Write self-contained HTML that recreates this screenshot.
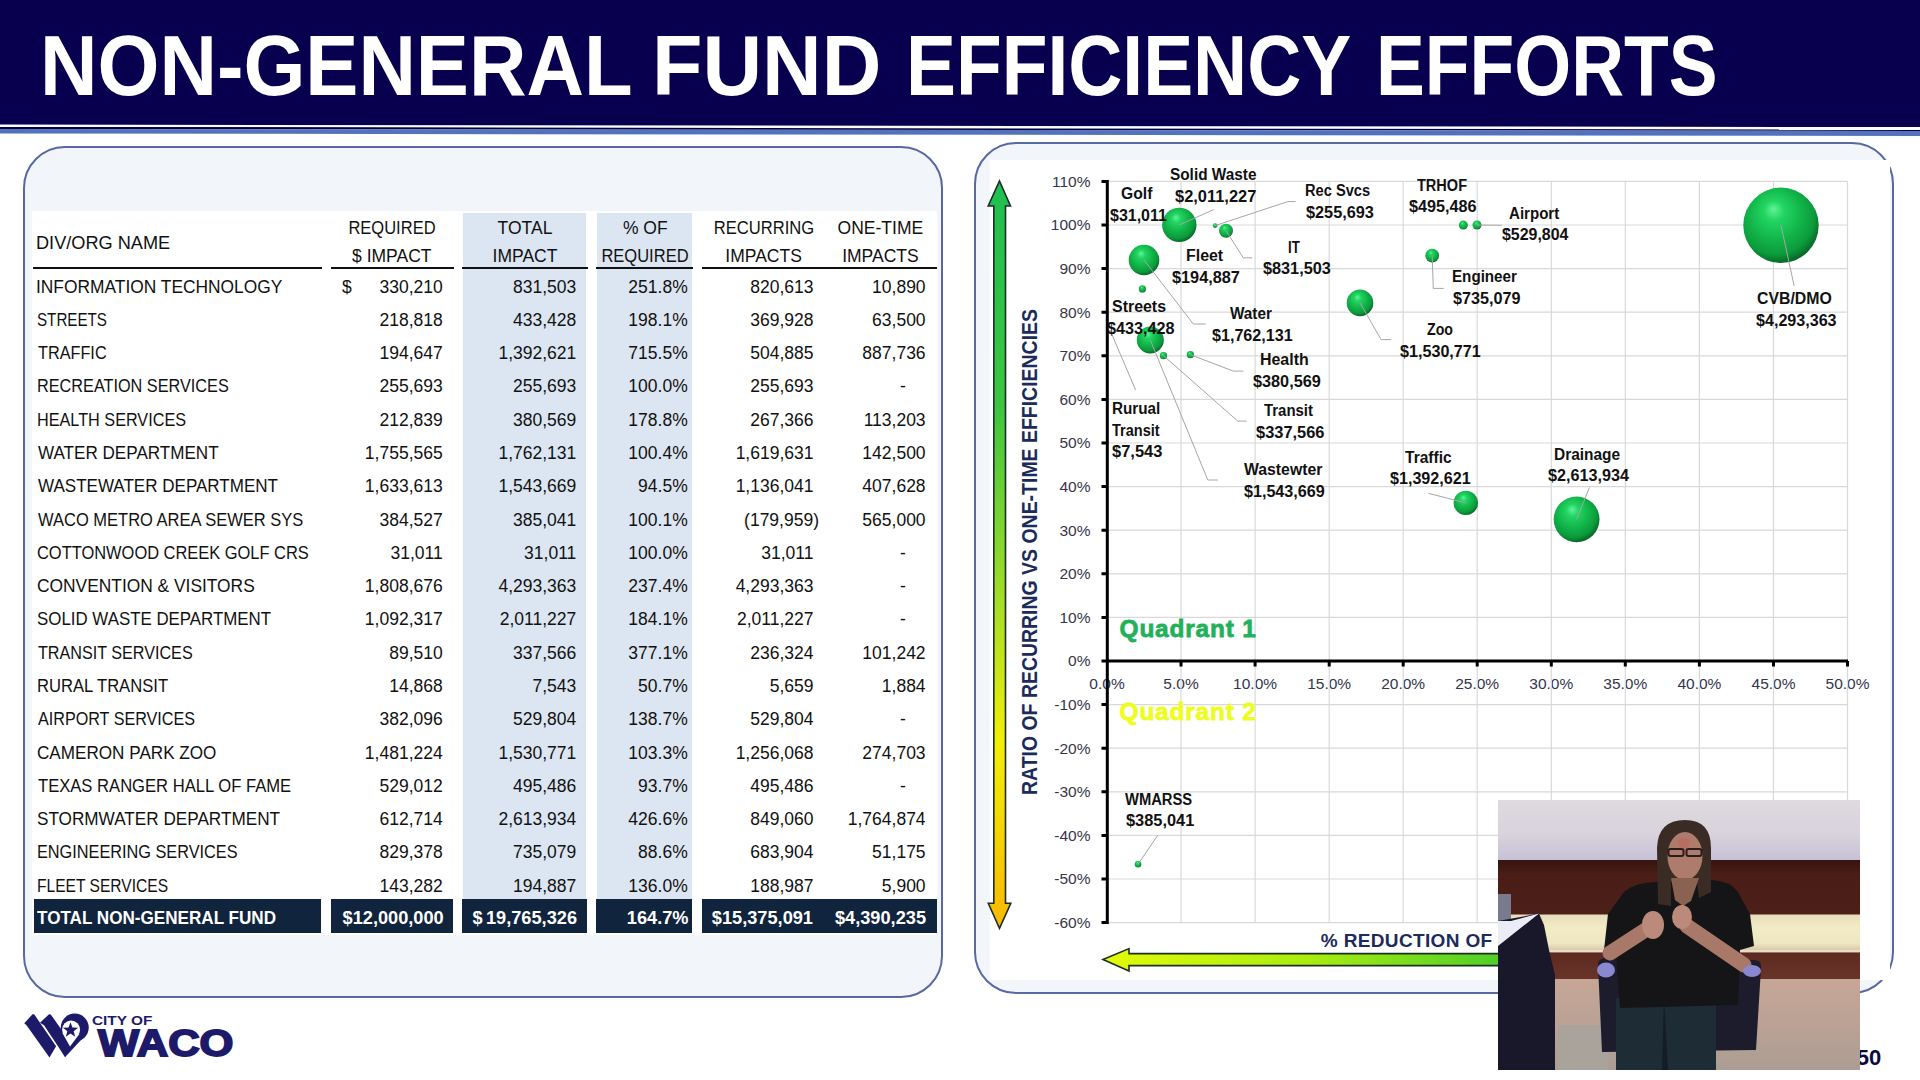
<!DOCTYPE html>
<html><head><meta charset="utf-8"><style>
*{margin:0;padding:0;box-sizing:border-box}
html,body{width:1920px;height:1080px;overflow:hidden;background:#fff;font-family:"Liberation Sans",sans-serif}
.t{position:absolute;white-space:nowrap}
.a{position:absolute}
</style></head><body>
<svg class="a" style="left:0;top:0" width="1920" height="140" viewBox="0 0 1920 140"><path d="M0 0H1920V128H0Z" fill="#08004f"/><path d="M0 124.6L1920 127.1V129.6L0 127Z" fill="#fbfbff"/><path d="M0 127L1920 129.6V131L0 129.1Z" fill="#03003f"/><path d="M0 129.1L1920 131V136L0 133.5Z" fill="#5372bd"/></svg>
<div class="t" style="left:39.87px;top:23.8px;font-size:84.4px;line-height:84.4px;font-weight:700;color:#fff;transform-origin:0 0;transform:scaleX(0.9432)">NON-GENERAL</div>
<div class="t" style="left:652.48px;top:23.8px;font-size:84.4px;line-height:84.4px;font-weight:700;color:#fff;transform-origin:0 0;transform:scaleX(0.9784)">FUND</div>
<div class="t" style="left:906.07px;top:23.8px;font-size:84.4px;line-height:84.4px;font-weight:700;color:#fff;transform-origin:0 0;transform:scaleX(0.8874)">EFFICIENCY</div>
<div class="t" style="left:1375.88px;top:23.8px;font-size:84.4px;line-height:84.4px;font-weight:700;color:#fff;transform-origin:0 0;transform:scaleX(0.8674)">EFFORTS</div>
<div class="a" style="left:23px;top:146px;width:920px;height:852px;border:2px solid #5868a0;border-radius:42px;background:#f2f6fb"></div>
<div class="a" style="left:31.8px;top:210.8px;width:905.2px;height:724.2px;background:#fff"></div>
<div class="a" style="left:462.5px;top:213px;width:123.5px;height:686px;background:#dce6f2"></div>
<div class="a" style="left:597px;top:213px;width:94.5px;height:686px;background:#dce6f2"></div>
<div class="a" style="left:33px;top:266.5px;width:289px;height:2.2px;background:#111"></div>
<div class="a" style="left:331px;top:266.5px;width:122.5px;height:2.2px;background:#111"></div>
<div class="a" style="left:462px;top:266.5px;width:126px;height:2.2px;background:#111"></div>
<div class="a" style="left:596px;top:266.5px;width:97px;height:2.2px;background:#111"></div>
<div class="a" style="left:702px;top:266.5px;width:235px;height:2.2px;background:#111"></div>
<div class="t" style="left:36.3px;top:234.7px;font-size:17.5px;line-height:17.5px;color:#111;transform-origin:0 0;transform:scaleX(1.037)">DIV/ORG NAME</div>
<div class="t" style="left:91.8px;width:600px;text-align:center;top:220.4px;font-size:17.5px;line-height:17.5px;color:#111;transform-origin:50% 0;transform:scaleX(0.943)">REQUIRED</div>
<div class="t" style="left:91.8px;width:600px;text-align:center;top:248.2px;font-size:17.5px;line-height:17.5px;color:#111;">$ IMPACT</div>
<div class="t" style="left:225.0px;width:600px;text-align:center;top:220.4px;font-size:17.5px;line-height:17.5px;color:#111;">TOTAL</div>
<div class="t" style="left:225.0px;width:600px;text-align:center;top:248.2px;font-size:17.5px;line-height:17.5px;color:#111;">IMPACT</div>
<div class="t" style="left:345.3px;width:600px;text-align:center;top:220.4px;font-size:17.5px;line-height:17.5px;color:#111;">% OF</div>
<div class="t" style="left:345.3px;width:600px;text-align:center;top:248.2px;font-size:17.5px;line-height:17.5px;color:#111;transform-origin:50% 0;transform:scaleX(0.943)">REQUIRED</div>
<div class="t" style="left:463.6px;width:600px;text-align:center;top:220.4px;font-size:17.5px;line-height:17.5px;color:#111;transform-origin:50% 0;transform:scaleX(0.947)">RECURRING</div>
<div class="t" style="left:463.6px;width:600px;text-align:center;top:248.2px;font-size:17.5px;line-height:17.5px;color:#111;">IMPACTS</div>
<div class="t" style="left:580.4px;width:600px;text-align:center;top:220.4px;font-size:17.5px;line-height:17.5px;color:#111;">ONE-TIME</div>
<div class="t" style="left:580.4px;width:600px;text-align:center;top:248.2px;font-size:17.5px;line-height:17.5px;color:#111;">IMPACTS</div>
<div class="t" style="left:35.8px;top:278.6px;font-size:17.5px;line-height:17.5px;color:#111;transform-origin:0 0;transform:scaleX(0.9923)">INFORMATION TECHNOLOGY</div>
<div class="t" style="left:342.0px;top:278.6px;font-size:17.5px;line-height:17.5px;color:#111;">$</div>
<div class="t" style="right:1477.3px;text-align:right;top:278.6px;font-size:17.5px;line-height:17.5px;color:#111;">330,210</div>
<div class="t" style="right:1343.7px;text-align:right;top:278.6px;font-size:17.5px;line-height:17.5px;color:#111;">831,503</div>
<div class="t" style="right:1232.3px;text-align:right;top:278.6px;font-size:17.5px;line-height:17.5px;color:#111;">251.8%</div>
<div class="t" style="right:1106.5px;text-align:right;top:278.6px;font-size:17.5px;line-height:17.5px;color:#111;">820,613</div>
<div class="t" style="right:994.4px;text-align:right;top:278.6px;font-size:17.5px;line-height:17.5px;color:#111;">10,890</div>
<div class="t" style="left:37.0px;top:311.9px;font-size:17.5px;line-height:17.5px;color:#111;transform-origin:0 0;transform:scaleX(0.8671)">STREETS</div>
<div class="t" style="right:1477.3px;text-align:right;top:311.9px;font-size:17.5px;line-height:17.5px;color:#111;">218,818</div>
<div class="t" style="right:1343.7px;text-align:right;top:311.9px;font-size:17.5px;line-height:17.5px;color:#111;">433,428</div>
<div class="t" style="right:1232.3px;text-align:right;top:311.9px;font-size:17.5px;line-height:17.5px;color:#111;">198.1%</div>
<div class="t" style="right:1106.5px;text-align:right;top:311.9px;font-size:17.5px;line-height:17.5px;color:#111;">369,928</div>
<div class="t" style="right:994.4px;text-align:right;top:311.9px;font-size:17.5px;line-height:17.5px;color:#111;">63,500</div>
<div class="t" style="left:37.8px;top:345.1px;font-size:17.5px;line-height:17.5px;color:#111;transform-origin:0 0;transform:scaleX(0.9288)">TRAFFIC</div>
<div class="t" style="right:1477.3px;text-align:right;top:345.1px;font-size:17.5px;line-height:17.5px;color:#111;">194,647</div>
<div class="t" style="right:1343.7px;text-align:right;top:345.1px;font-size:17.5px;line-height:17.5px;color:#111;">1,392,621</div>
<div class="t" style="right:1232.3px;text-align:right;top:345.1px;font-size:17.5px;line-height:17.5px;color:#111;">715.5%</div>
<div class="t" style="right:1106.5px;text-align:right;top:345.1px;font-size:17.5px;line-height:17.5px;color:#111;">504,885</div>
<div class="t" style="right:994.4px;text-align:right;top:345.1px;font-size:17.5px;line-height:17.5px;color:#111;">887,736</div>
<div class="t" style="left:36.9px;top:378.4px;font-size:17.5px;line-height:17.5px;color:#111;transform-origin:0 0;transform:scaleX(0.9288)">RECREATION SERVICES</div>
<div class="t" style="right:1477.3px;text-align:right;top:378.4px;font-size:17.5px;line-height:17.5px;color:#111;">255,693</div>
<div class="t" style="right:1343.7px;text-align:right;top:378.4px;font-size:17.5px;line-height:17.5px;color:#111;">255,693</div>
<div class="t" style="right:1232.3px;text-align:right;top:378.4px;font-size:17.5px;line-height:17.5px;color:#111;">100.0%</div>
<div class="t" style="right:1106.5px;text-align:right;top:378.4px;font-size:17.5px;line-height:17.5px;color:#111;">255,693</div>
<div class="t" style="left:603.0px;width:600px;text-align:center;top:378.4px;font-size:17.5px;line-height:17.5px;color:#111;">-</div>
<div class="t" style="left:36.9px;top:411.7px;font-size:17.5px;line-height:17.5px;color:#111;transform-origin:0 0;transform:scaleX(0.9270)">HEALTH SERVICES</div>
<div class="t" style="right:1477.3px;text-align:right;top:411.7px;font-size:17.5px;line-height:17.5px;color:#111;">212,839</div>
<div class="t" style="right:1343.7px;text-align:right;top:411.7px;font-size:17.5px;line-height:17.5px;color:#111;">380,569</div>
<div class="t" style="right:1232.3px;text-align:right;top:411.7px;font-size:17.5px;line-height:17.5px;color:#111;">178.8%</div>
<div class="t" style="right:1106.5px;text-align:right;top:411.7px;font-size:17.5px;line-height:17.5px;color:#111;">267,366</div>
<div class="t" style="right:994.4px;text-align:right;top:411.7px;font-size:17.5px;line-height:17.5px;color:#111;">113,203</div>
<div class="t" style="left:37.8px;top:445.0px;font-size:17.5px;line-height:17.5px;color:#111;transform-origin:0 0;transform:scaleX(0.9762)">WATER DEPARTMENT</div>
<div class="t" style="right:1477.3px;text-align:right;top:445.0px;font-size:17.5px;line-height:17.5px;color:#111;">1,755,565</div>
<div class="t" style="right:1343.7px;text-align:right;top:445.0px;font-size:17.5px;line-height:17.5px;color:#111;">1,762,131</div>
<div class="t" style="right:1232.3px;text-align:right;top:445.0px;font-size:17.5px;line-height:17.5px;color:#111;">100.4%</div>
<div class="t" style="right:1106.5px;text-align:right;top:445.0px;font-size:17.5px;line-height:17.5px;color:#111;">1,619,631</div>
<div class="t" style="right:994.4px;text-align:right;top:445.0px;font-size:17.5px;line-height:17.5px;color:#111;">142,500</div>
<div class="t" style="left:37.8px;top:478.3px;font-size:17.5px;line-height:17.5px;color:#111;transform-origin:0 0;transform:scaleX(0.9732)">WASTEWATER DEPARTMENT</div>
<div class="t" style="right:1477.3px;text-align:right;top:478.3px;font-size:17.5px;line-height:17.5px;color:#111;">1,633,613</div>
<div class="t" style="right:1343.7px;text-align:right;top:478.3px;font-size:17.5px;line-height:17.5px;color:#111;">1,543,669</div>
<div class="t" style="right:1232.3px;text-align:right;top:478.3px;font-size:17.5px;line-height:17.5px;color:#111;">94.5%</div>
<div class="t" style="right:1106.5px;text-align:right;top:478.3px;font-size:17.5px;line-height:17.5px;color:#111;">1,136,041</div>
<div class="t" style="right:994.4px;text-align:right;top:478.3px;font-size:17.5px;line-height:17.5px;color:#111;">407,628</div>
<div class="t" style="left:37.8px;top:511.5px;font-size:17.5px;line-height:17.5px;color:#111;transform-origin:0 0;transform:scaleX(0.9429)">WACO METRO AREA SEWER SYS</div>
<div class="t" style="right:1477.3px;text-align:right;top:511.5px;font-size:17.5px;line-height:17.5px;color:#111;">384,527</div>
<div class="t" style="right:1343.7px;text-align:right;top:511.5px;font-size:17.5px;line-height:17.5px;color:#111;">385,041</div>
<div class="t" style="right:1232.3px;text-align:right;top:511.5px;font-size:17.5px;line-height:17.5px;color:#111;">100.1%</div>
<div class="t" style="right:1101.0px;text-align:right;top:511.5px;font-size:17.5px;line-height:17.5px;color:#111;">(179,959)</div>
<div class="t" style="right:994.4px;text-align:right;top:511.5px;font-size:17.5px;line-height:17.5px;color:#111;">565,000</div>
<div class="t" style="left:36.9px;top:544.8px;font-size:17.5px;line-height:17.5px;color:#111;transform-origin:0 0;transform:scaleX(0.9392)">COTTONWOOD CREEK GOLF CRS</div>
<div class="t" style="right:1477.3px;text-align:right;top:544.8px;font-size:17.5px;line-height:17.5px;color:#111;">31,011</div>
<div class="t" style="right:1343.7px;text-align:right;top:544.8px;font-size:17.5px;line-height:17.5px;color:#111;">31,011</div>
<div class="t" style="right:1232.3px;text-align:right;top:544.8px;font-size:17.5px;line-height:17.5px;color:#111;">100.0%</div>
<div class="t" style="right:1106.5px;text-align:right;top:544.8px;font-size:17.5px;line-height:17.5px;color:#111;">31,011</div>
<div class="t" style="left:603.0px;width:600px;text-align:center;top:544.8px;font-size:17.5px;line-height:17.5px;color:#111;">-</div>
<div class="t" style="left:36.8px;top:578.1px;font-size:17.5px;line-height:17.5px;color:#111;transform-origin:0 0;transform:scaleX(0.9922)">CONVENTION &amp; VISITORS</div>
<div class="t" style="right:1477.3px;text-align:right;top:578.1px;font-size:17.5px;line-height:17.5px;color:#111;">1,808,676</div>
<div class="t" style="right:1343.7px;text-align:right;top:578.1px;font-size:17.5px;line-height:17.5px;color:#111;">4,293,363</div>
<div class="t" style="right:1232.3px;text-align:right;top:578.1px;font-size:17.5px;line-height:17.5px;color:#111;">237.4%</div>
<div class="t" style="right:1106.5px;text-align:right;top:578.1px;font-size:17.5px;line-height:17.5px;color:#111;">4,293,363</div>
<div class="t" style="left:603.0px;width:600px;text-align:center;top:578.1px;font-size:17.5px;line-height:17.5px;color:#111;">-</div>
<div class="t" style="left:36.8px;top:611.4px;font-size:17.5px;line-height:17.5px;color:#111;transform-origin:0 0;transform:scaleX(0.9643)">SOLID WASTE DEPARTMENT</div>
<div class="t" style="right:1477.3px;text-align:right;top:611.4px;font-size:17.5px;line-height:17.5px;color:#111;">1,092,317</div>
<div class="t" style="right:1343.7px;text-align:right;top:611.4px;font-size:17.5px;line-height:17.5px;color:#111;">2,011,227</div>
<div class="t" style="right:1232.3px;text-align:right;top:611.4px;font-size:17.5px;line-height:17.5px;color:#111;">184.1%</div>
<div class="t" style="right:1106.5px;text-align:right;top:611.4px;font-size:17.5px;line-height:17.5px;color:#111;">2,011,227</div>
<div class="t" style="left:603.0px;width:600px;text-align:center;top:611.4px;font-size:17.5px;line-height:17.5px;color:#111;">-</div>
<div class="t" style="left:37.8px;top:644.7px;font-size:17.5px;line-height:17.5px;color:#111;transform-origin:0 0;transform:scaleX(0.9228)">TRANSIT SERVICES</div>
<div class="t" style="right:1477.3px;text-align:right;top:644.7px;font-size:17.5px;line-height:17.5px;color:#111;">89,510</div>
<div class="t" style="right:1343.7px;text-align:right;top:644.7px;font-size:17.5px;line-height:17.5px;color:#111;">337,566</div>
<div class="t" style="right:1232.3px;text-align:right;top:644.7px;font-size:17.5px;line-height:17.5px;color:#111;">377.1%</div>
<div class="t" style="right:1106.5px;text-align:right;top:644.7px;font-size:17.5px;line-height:17.5px;color:#111;">236,324</div>
<div class="t" style="right:994.4px;text-align:right;top:644.7px;font-size:17.5px;line-height:17.5px;color:#111;">101,242</div>
<div class="t" style="left:36.9px;top:677.9px;font-size:17.5px;line-height:17.5px;color:#111;transform-origin:0 0;transform:scaleX(0.9489)">RURAL TRANSIT</div>
<div class="t" style="right:1477.3px;text-align:right;top:677.9px;font-size:17.5px;line-height:17.5px;color:#111;">14,868</div>
<div class="t" style="right:1343.7px;text-align:right;top:677.9px;font-size:17.5px;line-height:17.5px;color:#111;">7,543</div>
<div class="t" style="right:1232.3px;text-align:right;top:677.9px;font-size:17.5px;line-height:17.5px;color:#111;">50.7%</div>
<div class="t" style="right:1106.5px;text-align:right;top:677.9px;font-size:17.5px;line-height:17.5px;color:#111;">5,659</div>
<div class="t" style="right:994.4px;text-align:right;top:677.9px;font-size:17.5px;line-height:17.5px;color:#111;">1,884</div>
<div class="t" style="left:37.8px;top:711.2px;font-size:17.5px;line-height:17.5px;color:#111;transform-origin:0 0;transform:scaleX(0.9225)">AIRPORT SERVICES</div>
<div class="t" style="right:1477.3px;text-align:right;top:711.2px;font-size:17.5px;line-height:17.5px;color:#111;">382,096</div>
<div class="t" style="right:1343.7px;text-align:right;top:711.2px;font-size:17.5px;line-height:17.5px;color:#111;">529,804</div>
<div class="t" style="right:1232.3px;text-align:right;top:711.2px;font-size:17.5px;line-height:17.5px;color:#111;">138.7%</div>
<div class="t" style="right:1106.5px;text-align:right;top:711.2px;font-size:17.5px;line-height:17.5px;color:#111;">529,804</div>
<div class="t" style="left:603.0px;width:600px;text-align:center;top:711.2px;font-size:17.5px;line-height:17.5px;color:#111;">-</div>
<div class="t" style="left:36.8px;top:744.5px;font-size:17.5px;line-height:17.5px;color:#111;transform-origin:0 0;transform:scaleX(0.9780)">CAMERON PARK ZOO</div>
<div class="t" style="right:1477.3px;text-align:right;top:744.5px;font-size:17.5px;line-height:17.5px;color:#111;">1,481,224</div>
<div class="t" style="right:1343.7px;text-align:right;top:744.5px;font-size:17.5px;line-height:17.5px;color:#111;">1,530,771</div>
<div class="t" style="right:1232.3px;text-align:right;top:744.5px;font-size:17.5px;line-height:17.5px;color:#111;">103.3%</div>
<div class="t" style="right:1106.5px;text-align:right;top:744.5px;font-size:17.5px;line-height:17.5px;color:#111;">1,256,068</div>
<div class="t" style="right:994.4px;text-align:right;top:744.5px;font-size:17.5px;line-height:17.5px;color:#111;">274,703</div>
<div class="t" style="left:37.8px;top:777.8px;font-size:17.5px;line-height:17.5px;color:#111;transform-origin:0 0;transform:scaleX(0.9489)">TEXAS RANGER HALL OF FAME</div>
<div class="t" style="right:1477.3px;text-align:right;top:777.8px;font-size:17.5px;line-height:17.5px;color:#111;">529,012</div>
<div class="t" style="right:1343.7px;text-align:right;top:777.8px;font-size:17.5px;line-height:17.5px;color:#111;">495,486</div>
<div class="t" style="right:1232.3px;text-align:right;top:777.8px;font-size:17.5px;line-height:17.5px;color:#111;">93.7%</div>
<div class="t" style="right:1106.5px;text-align:right;top:777.8px;font-size:17.5px;line-height:17.5px;color:#111;">495,486</div>
<div class="t" style="left:603.0px;width:600px;text-align:center;top:777.8px;font-size:17.5px;line-height:17.5px;color:#111;">-</div>
<div class="t" style="left:36.8px;top:811.1px;font-size:17.5px;line-height:17.5px;color:#111;transform-origin:0 0;transform:scaleX(0.9801)">STORMWATER DEPARTMENT</div>
<div class="t" style="right:1477.3px;text-align:right;top:811.1px;font-size:17.5px;line-height:17.5px;color:#111;">612,714</div>
<div class="t" style="right:1343.7px;text-align:right;top:811.1px;font-size:17.5px;line-height:17.5px;color:#111;">2,613,934</div>
<div class="t" style="right:1232.3px;text-align:right;top:811.1px;font-size:17.5px;line-height:17.5px;color:#111;">426.6%</div>
<div class="t" style="right:1106.5px;text-align:right;top:811.1px;font-size:17.5px;line-height:17.5px;color:#111;">849,060</div>
<div class="t" style="right:994.4px;text-align:right;top:811.1px;font-size:17.5px;line-height:17.5px;color:#111;">1,764,874</div>
<div class="t" style="left:36.9px;top:844.3px;font-size:17.5px;line-height:17.5px;color:#111;transform-origin:0 0;transform:scaleX(0.9304)">ENGINEERING SERVICES</div>
<div class="t" style="right:1477.3px;text-align:right;top:844.3px;font-size:17.5px;line-height:17.5px;color:#111;">829,378</div>
<div class="t" style="right:1343.7px;text-align:right;top:844.3px;font-size:17.5px;line-height:17.5px;color:#111;">735,079</div>
<div class="t" style="right:1232.3px;text-align:right;top:844.3px;font-size:17.5px;line-height:17.5px;color:#111;">88.6%</div>
<div class="t" style="right:1106.5px;text-align:right;top:844.3px;font-size:17.5px;line-height:17.5px;color:#111;">683,904</div>
<div class="t" style="right:994.4px;text-align:right;top:844.3px;font-size:17.5px;line-height:17.5px;color:#111;">51,175</div>
<div class="t" style="left:36.9px;top:877.6px;font-size:17.5px;line-height:17.5px;color:#111;transform-origin:0 0;transform:scaleX(0.8903)">FLEET SERVICES</div>
<div class="t" style="right:1477.3px;text-align:right;top:877.6px;font-size:17.5px;line-height:17.5px;color:#111;">143,282</div>
<div class="t" style="right:1343.7px;text-align:right;top:877.6px;font-size:17.5px;line-height:17.5px;color:#111;">194,887</div>
<div class="t" style="right:1232.3px;text-align:right;top:877.6px;font-size:17.5px;line-height:17.5px;color:#111;">136.0%</div>
<div class="t" style="right:1106.5px;text-align:right;top:877.6px;font-size:17.5px;line-height:17.5px;color:#111;">188,987</div>
<div class="t" style="right:994.4px;text-align:right;top:877.6px;font-size:17.5px;line-height:17.5px;color:#111;">5,900</div>
<div class="a" style="left:34px;top:899px;width:287px;height:33.6px;background:#10243e"></div>
<div class="a" style="left:331.4px;top:899px;width:121.40000000000003px;height:33.6px;background:#10243e"></div>
<div class="a" style="left:462.3px;top:899px;width:124.69999999999999px;height:33.6px;background:#10243e"></div>
<div class="a" style="left:596px;top:899px;width:95.70000000000005px;height:33.6px;background:#10243e"></div>
<div class="a" style="left:701.8px;top:899px;width:235.10000000000002px;height:33.6px;background:#10243e"></div>
<div class="t" style="left:37.0px;top:909.1px;font-size:18.2px;line-height:18.2px;font-weight:700;color:#fff;transform-origin:0 0;transform:scaleX(0.94)">TOTAL NON-GENERAL FUND</div>
<div class="t" style="right:1476.3px;text-align:right;top:909.1px;font-size:18.2px;line-height:18.2px;font-weight:700;color:#fff;">$12,000,000</div>
<div class="t" style="left:472.5px;top:909.1px;font-size:18.2px;line-height:18.2px;font-weight:700;color:#fff;">$</div>
<div class="t" style="right:1343.0px;text-align:right;top:909.1px;font-size:18.2px;line-height:18.2px;font-weight:700;color:#fff;">19,765,326</div>
<div class="t" style="right:1231.5px;text-align:right;top:909.1px;font-size:18.2px;line-height:18.2px;font-weight:700;color:#fff;">164.7%</div>
<div class="t" style="right:1107.0px;text-align:right;top:909.1px;font-size:18.2px;line-height:18.2px;font-weight:700;color:#fff;">$15,375,091</div>
<div class="t" style="right:994.0px;text-align:right;top:909.1px;font-size:18.2px;line-height:18.2px;font-weight:700;color:#fff;">$4,390,235</div>
<div class="a" style="left:974px;top:142px;width:920px;height:852px;border:2px solid #5868a0;border-radius:42px;background:#f2f6fb"></div>
<div class="a" style="left:989.5px;top:159.5px;width:900px;height:820px;background:#fff"></div>
<div class="t" style="right:829.5px;text-align:right;top:915.0px;font-size:15.5px;line-height:15.5px;color:#34364c;">-60%</div>
<div class="t" style="right:829.5px;text-align:right;top:871.4px;font-size:15.5px;line-height:15.5px;color:#34364c;">-50%</div>
<div class="t" style="right:829.5px;text-align:right;top:827.8px;font-size:15.5px;line-height:15.5px;color:#34364c;">-40%</div>
<div class="t" style="right:829.5px;text-align:right;top:784.2px;font-size:15.5px;line-height:15.5px;color:#34364c;">-30%</div>
<div class="t" style="right:829.5px;text-align:right;top:740.6px;font-size:15.5px;line-height:15.5px;color:#34364c;">-20%</div>
<div class="t" style="right:829.5px;text-align:right;top:697.0px;font-size:15.5px;line-height:15.5px;color:#34364c;">-10%</div>
<div class="t" style="right:829.5px;text-align:right;top:653.4px;font-size:15.5px;line-height:15.5px;color:#34364c;">0%</div>
<div class="t" style="right:829.5px;text-align:right;top:609.8px;font-size:15.5px;line-height:15.5px;color:#34364c;">10%</div>
<div class="t" style="right:829.5px;text-align:right;top:566.2px;font-size:15.5px;line-height:15.5px;color:#34364c;">20%</div>
<div class="t" style="right:829.5px;text-align:right;top:522.6px;font-size:15.5px;line-height:15.5px;color:#34364c;">30%</div>
<div class="t" style="right:829.5px;text-align:right;top:479.0px;font-size:15.5px;line-height:15.5px;color:#34364c;">40%</div>
<div class="t" style="right:829.5px;text-align:right;top:435.4px;font-size:15.5px;line-height:15.5px;color:#34364c;">50%</div>
<div class="t" style="right:829.5px;text-align:right;top:391.8px;font-size:15.5px;line-height:15.5px;color:#34364c;">60%</div>
<div class="t" style="right:829.5px;text-align:right;top:348.2px;font-size:15.5px;line-height:15.5px;color:#34364c;">70%</div>
<div class="t" style="right:829.5px;text-align:right;top:304.6px;font-size:15.5px;line-height:15.5px;color:#34364c;">80%</div>
<div class="t" style="right:829.5px;text-align:right;top:261.0px;font-size:15.5px;line-height:15.5px;color:#34364c;">90%</div>
<div class="t" style="right:829.5px;text-align:right;top:217.4px;font-size:15.5px;line-height:15.5px;color:#34364c;">100%</div>
<div class="t" style="right:829.5px;text-align:right;top:173.8px;font-size:15.5px;line-height:15.5px;color:#34364c;">110%</div>
<div class="t" style="left:807.0px;width:600px;text-align:center;top:675.9px;font-size:15.5px;line-height:15.5px;color:#34364c;">0.0%</div>
<div class="t" style="left:881.0px;width:600px;text-align:center;top:675.9px;font-size:15.5px;line-height:15.5px;color:#34364c;">5.0%</div>
<div class="t" style="left:955.1px;width:600px;text-align:center;top:675.9px;font-size:15.5px;line-height:15.5px;color:#34364c;">10.0%</div>
<div class="t" style="left:1029.2px;width:600px;text-align:center;top:675.9px;font-size:15.5px;line-height:15.5px;color:#34364c;">15.0%</div>
<div class="t" style="left:1103.2px;width:600px;text-align:center;top:675.9px;font-size:15.5px;line-height:15.5px;color:#34364c;">20.0%</div>
<div class="t" style="left:1177.2px;width:600px;text-align:center;top:675.9px;font-size:15.5px;line-height:15.5px;color:#34364c;">25.0%</div>
<div class="t" style="left:1251.3px;width:600px;text-align:center;top:675.9px;font-size:15.5px;line-height:15.5px;color:#34364c;">30.0%</div>
<div class="t" style="left:1325.3px;width:600px;text-align:center;top:675.9px;font-size:15.5px;line-height:15.5px;color:#34364c;">35.0%</div>
<div class="t" style="left:1399.4px;width:600px;text-align:center;top:675.9px;font-size:15.5px;line-height:15.5px;color:#34364c;">40.0%</div>
<div class="t" style="left:1473.5px;width:600px;text-align:center;top:675.9px;font-size:15.5px;line-height:15.5px;color:#34364c;">45.0%</div>
<div class="t" style="left:1547.5px;width:600px;text-align:center;top:675.9px;font-size:15.5px;line-height:15.5px;color:#34364c;">50.0%</div>
<svg class="a" style="left:0;top:0" width="1920" height="1080" viewBox="0 0 1920 1080">
<defs>
<radialGradient id="bg" cx="0.44" cy="0.40" r="0.62" fx="0.40" fy="0.28"><stop offset="0" stop-color="#5ef597"/><stop offset="0.22" stop-color="#22d462"/><stop offset="0.55" stop-color="#12b64a"/><stop offset="0.82" stop-color="#0c9a3c"/><stop offset="1" stop-color="#066224"/></radialGradient>
<linearGradient id="vg" x1="0" y1="0" x2="0" y2="1"><stop offset="0" stop-color="#1fbf4f"/><stop offset="0.3" stop-color="#3cc640"/><stop offset="0.55" stop-color="#9fdc26"/><stop offset="0.75" stop-color="#f2ef05"/><stop offset="1" stop-color="#f9b800"/></linearGradient>
<linearGradient id="hg" x1="0" y1="0" x2="1" y2="0"><stop offset="0" stop-color="#e2fb08"/><stop offset="0.5" stop-color="#a8ec10"/><stop offset="1" stop-color="#45cc2a"/></linearGradient>
</defs>
<path d="M1107 922.6H1847.5 M1107 879.0H1847.5 M1107 835.4H1847.5 M1107 791.8H1847.5 M1107 748.2H1847.5 M1107 704.6H1847.5 M1107 661.0H1847.5 M1107 617.4H1847.5 M1107 573.8H1847.5 M1107 530.2H1847.5 M1107 486.6H1847.5 M1107 443.0H1847.5 M1107 399.4H1847.5 M1107 355.8H1847.5 M1107 312.2H1847.5 M1107 268.6H1847.5 M1107 225.0H1847.5 M1107 181.4H1847.5 M1181.0 181.4V922.6 M1255.1 181.4V922.6 M1329.2 181.4V922.6 M1403.2 181.4V922.6 M1477.2 181.4V922.6 M1551.3 181.4V922.6 M1625.3 181.4V922.6 M1699.4 181.4V922.6 M1773.5 181.4V922.6 M1847.5 181.4V922.6" stroke="#d9d9d9" stroke-width="1.2" fill="none"/>
<path d="M1107.3 180V924 M1105 661H1848 M1101.5 922.6H1107 M1101.5 879.0H1107 M1101.5 835.4H1107 M1101.5 791.8H1107 M1101.5 748.2H1107 M1101.5 704.6H1107 M1101.5 661.0H1107 M1101.5 617.4H1107 M1101.5 573.8H1107 M1101.5 530.2H1107 M1101.5 486.6H1107 M1101.5 443.0H1107 M1101.5 399.4H1107 M1101.5 355.8H1107 M1101.5 312.2H1107 M1101.5 268.6H1107 M1101.5 225.0H1107 M1101.5 181.4H1107 M1181.0 661V666.5 M1255.1 661V666.5 M1329.2 661V666.5 M1403.2 661V666.5 M1477.2 661V666.5 M1551.3 661V666.5 M1625.3 661V666.5 M1699.4 661V666.5 M1773.5 661V666.5 M1847.5 661V666.5" stroke="#000" stroke-width="3" fill="none"/>
<path d="M999.5 181 L1010.5 206 L1005.5 206 L1005.5 903.3 L1010.8 903.3 L999.5 928.3 L988.3 903.3 L993.8 903.3 L993.8 206 L988.2 206 Z" fill="url(#vg)" stroke="#1d2b2b" stroke-width="1.6" stroke-linejoin="miter"/>
<path d="M1103 959.5 L1129 948.6 L1129 953.6 L1520 953.6 L1520 965.6 L1129 965.6 L1129 971 Z" fill="url(#hg)" stroke="#1d3020" stroke-width="1.6"/>
<circle cx="1781" cy="225.3" r="37.7" fill="url(#bg)"/>
<circle cx="1576.6" cy="519.3" r="22.9" fill="url(#bg)"/>
<circle cx="1179.3" cy="224.9" r="17.2" fill="url(#bg)"/>
<circle cx="1144" cy="260" r="15.3" fill="url(#bg)"/>
<circle cx="1150.3" cy="340" r="13.5" fill="url(#bg)"/>
<circle cx="1360" cy="302.9" r="13.3" fill="url(#bg)"/>
<circle cx="1465.8" cy="502.9" r="12.2" fill="url(#bg)"/>
<circle cx="1226" cy="230.7" r="7" fill="url(#bg)"/>
<circle cx="1432.2" cy="255.6" r="6.9" fill="url(#bg)"/>
<circle cx="1463.3" cy="225.1" r="4.5" fill="url(#bg)"/>
<circle cx="1477" cy="225" r="4.5" fill="url(#bg)"/>
<circle cx="1142.4" cy="288.9" r="3.6" fill="url(#bg)"/>
<circle cx="1163.5" cy="355.7" r="3.6" fill="url(#bg)"/>
<circle cx="1190.4" cy="354.7" r="3.6" fill="url(#bg)"/>
<circle cx="1138" cy="864.3" r="3.3" fill="url(#bg)"/>
<circle cx="1215.1" cy="225.6" r="2.3" fill="url(#bg)"/>
<path d="M1213.7 209.6 L1179.3 224.9 M1295.6 201.6 L1287.8 201.6 L1215.1 225.6 M1252.2 257.8 L1243.3 257.8 L1226 230.7 M1205.6 324 L1193.3 324 L1144 260 M1391.1 339.6 L1381.1 339.6 L1360 302.9 M1443.8 288.4 L1433.3 288.4 L1432.2 255.6 M1243.3 371.1 L1233.3 371.1 L1190.4 354.7 M1246.7 421.1 L1237.8 421.1 L1163.5 355.7 M1217.8 480 L1207.8 480 L1150.3 340 M1135.6 390 L1110 330 M1428.4 493.3 L1465.8 502.9 M1589.4 487.5 L1576.6 519.3 M1794.1 285.7 L1781 225.3 M1501.6 225.3 L1477 225 M1157.9 835.1 L1138 864.3" stroke="#a6a6a6" stroke-width="1" fill="none"/>
</svg>
<div class="t" style="left:1120.7px;top:186.3px;font-size:16px;line-height:16px;font-weight:700;color:#111;transform-origin:0 0;transform:scaleX(0.9806)">Golf</div>
<div class="t" style="left:1109.5px;top:208.4px;font-size:16px;line-height:16px;font-weight:700;color:#111;transform-origin:0 0;transform:scaleX(0.9982)">$31,011</div>
<div class="t" style="left:1169.6px;top:166.9px;font-size:16px;line-height:16px;font-weight:700;color:#111;transform-origin:0 0;transform:scaleX(0.9596)">Solid Waste</div>
<div class="t" style="left:1174.6px;top:188.9px;font-size:16px;line-height:16px;font-weight:700;color:#111;transform-origin:0 0;transform:scaleX(1.0266)">$2,011,227</div>
<div class="t" style="left:1304.7px;top:183.3px;font-size:16px;line-height:16px;font-weight:700;color:#111;transform-origin:0 0;transform:scaleX(0.9143)">Rec Svcs</div>
<div class="t" style="left:1305.6px;top:205.0px;font-size:16px;line-height:16px;font-weight:700;color:#111;transform-origin:0 0;transform:scaleX(1.0167)">$255,693</div>
<div class="t" style="left:1416.6px;top:177.6px;font-size:16px;line-height:16px;font-weight:700;color:#111;transform-origin:0 0;transform:scaleX(0.9073)">TRHOF</div>
<div class="t" style="left:1409.4px;top:199.2px;font-size:16px;line-height:16px;font-weight:700;color:#111;transform-origin:0 0;transform:scaleX(1.0121)">$495,486</div>
<div class="t" style="left:1508.6px;top:205.7px;font-size:16px;line-height:16px;font-weight:700;color:#111;transform-origin:0 0;transform:scaleX(0.9415)">Airport</div>
<div class="t" style="left:1501.5px;top:227.1px;font-size:16px;line-height:16px;font-weight:700;color:#111;transform-origin:0 0;transform:scaleX(0.9955)">$529,804</div>
<div class="t" style="left:1288.1px;top:239.5px;font-size:16px;line-height:16px;font-weight:700;color:#111;transform-origin:0 0;transform:scaleX(0.8308)">IT</div>
<div class="t" style="left:1262.5px;top:261.2px;font-size:16px;line-height:16px;font-weight:700;color:#111;transform-origin:0 0;transform:scaleX(1.0152)">$831,503</div>
<div class="t" style="left:1185.7px;top:248.3px;font-size:16px;line-height:16px;font-weight:700;color:#111;transform-origin:0 0;transform:scaleX(0.9944)">Fleet</div>
<div class="t" style="left:1172.4px;top:270.0px;font-size:16px;line-height:16px;font-weight:700;color:#111;transform-origin:0 0;transform:scaleX(1.0167)">$194,887</div>
<div class="t" style="left:1452.0px;top:269.2px;font-size:16px;line-height:16px;font-weight:700;color:#111;transform-origin:0 0;transform:scaleX(0.9478)">Engineer</div>
<div class="t" style="left:1452.9px;top:290.6px;font-size:16px;line-height:16px;font-weight:700;color:#111;transform-origin:0 0;transform:scaleX(1.0106)">$735,079</div>
<div class="t" style="left:1756.8px;top:290.6px;font-size:16px;line-height:16px;font-weight:700;color:#111;transform-origin:0 0;transform:scaleX(0.9905)">CVB/DMO</div>
<div class="t" style="left:1755.8px;top:312.9px;font-size:16px;line-height:16px;font-weight:700;color:#111;transform-origin:0 0;transform:scaleX(1.0062)">$4,293,363</div>
<div class="t" style="left:1111.9px;top:299.4px;font-size:16px;line-height:16px;font-weight:700;color:#111;transform-origin:0 0;transform:scaleX(0.9962)">Streets</div>
<div class="t" style="left:1107.4px;top:321.1px;font-size:16px;line-height:16px;font-weight:700;color:#111;transform-origin:0 0;transform:scaleX(1.0121)">$433,428</div>
<div class="t" style="left:1230.0px;top:305.5px;font-size:16px;line-height:16px;font-weight:700;color:#111;transform-origin:0 0;transform:scaleX(0.9545)">Water</div>
<div class="t" style="left:1212.4px;top:327.5px;font-size:16px;line-height:16px;font-weight:700;color:#111;transform-origin:0 0;transform:scaleX(1.0075)">$1,762,131</div>
<div class="t" style="left:1426.5px;top:321.9px;font-size:16px;line-height:16px;font-weight:700;color:#111;transform-origin:0 0;transform:scaleX(0.8862)">Zoo</div>
<div class="t" style="left:1400.4px;top:343.6px;font-size:16px;line-height:16px;font-weight:700;color:#111;transform-origin:0 0;transform:scaleX(1.0087)">$1,530,771</div>
<div class="t" style="left:1260.1px;top:352.3px;font-size:16px;line-height:16px;font-weight:700;color:#111;transform-origin:0 0;transform:scaleX(0.9957)">Health</div>
<div class="t" style="left:1253.0px;top:373.9px;font-size:16px;line-height:16px;font-weight:700;color:#111;transform-origin:0 0;transform:scaleX(1.0152)">$380,569</div>
<div class="t" style="left:1263.8px;top:403.1px;font-size:16px;line-height:16px;font-weight:700;color:#111;transform-origin:0 0;transform:scaleX(0.9340)">Transit</div>
<div class="t" style="left:1255.7px;top:425.2px;font-size:16px;line-height:16px;font-weight:700;color:#111;transform-origin:0 0;transform:scaleX(1.0258)">$337,566</div>
<div class="t" style="left:1243.5px;top:462.0px;font-size:16px;line-height:16px;font-weight:700;color:#111;transform-origin:0 0;transform:scaleX(0.9861)">Wastewter</div>
<div class="t" style="left:1243.5px;top:483.7px;font-size:16px;line-height:16px;font-weight:700;color:#111;transform-origin:0 0;transform:scaleX(1.0075)">$1,543,669</div>
<div class="t" style="left:1405.0px;top:449.9px;font-size:16px;line-height:16px;font-weight:700;color:#111;transform-origin:0 0;transform:scaleX(0.9708)">Traffic</div>
<div class="t" style="left:1389.7px;top:471.4px;font-size:16px;line-height:16px;font-weight:700;color:#111;transform-origin:0 0;transform:scaleX(1.0075)">$1,392,621</div>
<div class="t" style="left:1553.7px;top:446.8px;font-size:16px;line-height:16px;font-weight:700;color:#111;transform-origin:0 0;transform:scaleX(0.9657)">Drainage</div>
<div class="t" style="left:1548.4px;top:468.4px;font-size:16px;line-height:16px;font-weight:700;color:#111;transform-origin:0 0;transform:scaleX(1.0100)">$2,613,934</div>
<div class="t" style="left:1124.8px;top:791.6px;font-size:16px;line-height:16px;font-weight:700;color:#111;transform-origin:0 0;transform:scaleX(0.9222)">WMARSS</div>
<div class="t" style="left:1125.5px;top:813.4px;font-size:16px;line-height:16px;font-weight:700;color:#111;transform-origin:0 0;transform:scaleX(1.0227)">$385,041</div>
<div class="t" style="left:1112.0px;top:400.7px;font-size:16px;line-height:16px;font-weight:700;color:#111;transform-origin:0 0;transform:scaleX(0.9531)">Rurual</div>
<div class="t" style="left:1112.2px;top:422.7px;font-size:16px;line-height:16px;font-weight:700;color:#111;transform-origin:0 0;transform:scaleX(0.9075)">Transit</div>
<div class="t" style="left:1112.2px;top:444.4px;font-size:16px;line-height:16px;font-weight:700;color:#111;transform-origin:0 0;transform:scaleX(1.0286)">$7,543</div>
<div class="t" style="left:1119.6px;top:617.1px;font-size:24.4px;line-height:24.4px;font-weight:700;color:#1fb25a;letter-spacing:0.83px;-webkit-text-stroke:0.8px #1fb25a">Quadrant 1</div>
<div class="t" style="left:1119.6px;top:700.0px;font-size:24.4px;line-height:24.4px;font-weight:700;color:#eefc1e;letter-spacing:0.83px;-webkit-text-stroke:0.8px #eefc1e">Quadrant 2</div>
<div class="t" style="left:1037px;top:795px;font-size:21.7px;line-height:21.7px;font-weight:700;color:#1c2b5a;transform-origin:0 0;transform:rotate(-90deg) scaleX(0.897) translateY(-18.4px)">RATIO OF RECURRING VS ONE-TIME EFFICIENCIES</div>
<div class="t" style="left:1320.8px;top:930.9px;font-size:19px;line-height:19px;font-weight:700;color:#1c2b5a;letter-spacing:0.35px">% REDUCTION OF COST</div>
<svg class="a" style="left:20px;top:1008px" width="75" height="54" viewBox="0 0 1500 1080">
<path d="M85 305 L250 125 L283 125 L722 765 L590 990 L130 345 Z" fill="#1e1a6a"/>
<path d="M400 295 L580 125 L615 128 L1010 690 L900 985 L760 765 L480 345 Z" fill="#1e1a6a"/>
<circle cx="1095" cy="392" r="280" fill="#1e1a6a"/>
<path d="M860 560 L1330 520 L900 985 Z" fill="#1e1a6a"/>
<circle cx="1022" cy="432" r="180" fill="#fff"/>
<path d="M848 500 L1188 520 L1000 770 Z" fill="#fff"/>
<path d="M1010 285 L1049 392 L1162 396 L1073 465 L1104 574 L1010 511 L916 574 L947 465 L858 396 L971 392 Z" fill="#1e1a6a"/>
</svg>
<div class="t" style="left:91.7px;top:1014.5px;font-size:12.6px;line-height:12.6px;font-weight:700;color:#1e1a6a;transform-origin:0 0;transform:scaleX(1.22)">CITY OF</div>
<div class="t" style="left:97.7px;top:1026.3px;font-size:36.3px;line-height:36.3px;font-weight:700;color:#1e1a6a;transform-origin:0 0;transform:scaleX(1.2);-webkit-text-stroke:1.8px #1e1a6a">WACO</div>
<div class="t" style="right:38.7px;text-align:right;top:1046.6px;font-size:22px;line-height:22px;font-weight:700;color:#0c0a40;">150</div>
<div class="a" style="left:1497.6px;top:800.2px;width:362px;height:269.4px;overflow:hidden;background:#b8a090"><svg class="a" style="left:0;top:0" width="362" height="270" viewBox="0 0 362 270">
<defs>
<linearGradient id="wall" x1="0" y1="0" x2="0" y2="1"><stop offset="0" stop-color="#dedade"/><stop offset="0.55" stop-color="#d8d3dc"/><stop offset="1" stop-color="#c6c0d8"/></linearGradient>
<linearGradient id="brn" x1="0" y1="0" x2="0" y2="1"><stop offset="0" stop-color="#36140f"/><stop offset="0.25" stop-color="#4a1d16"/><stop offset="1" stop-color="#4c2018"/></linearGradient>
<linearGradient id="crm" x1="0" y1="0" x2="0" y2="1"><stop offset="0" stop-color="#e6dcba"/><stop offset="0.35" stop-color="#f2ecc6"/><stop offset="0.8" stop-color="#eee6c0"/><stop offset="1" stop-color="#d8c8a8"/></linearGradient>
<linearGradient id="brn2" x1="0" y1="0" x2="0" y2="1"><stop offset="0" stop-color="#5c2a20"/><stop offset="1" stop-color="#6a3428"/></linearGradient>
<linearGradient id="crp" x1="0" y1="0" x2="0" y2="1"><stop offset="0" stop-color="#c6a696"/><stop offset="0.5" stop-color="#bba294"/><stop offset="1" stop-color="#ab9d94"/></linearGradient>
</defs>
<rect x="0" y="0" width="362" height="61" fill="url(#wall)"/>
<rect x="0" y="60" width="362" height="55" fill="url(#brn)"/>
<rect x="0" y="114.5" width="362" height="36" fill="url(#crm)"/>
<rect x="0" y="150" width="362" height="2.5" fill="#e9dccb"/>
<rect x="0" y="152.5" width="362" height="27" fill="url(#brn2)"/>
<rect x="0" y="179" width="362" height="91" fill="url(#crp)"/>
<rect x="60" y="225" width="50" height="45" fill="#a8a49c" opacity="0.8"/>
<rect x="0" y="94" width="13" height="27" fill="#7a7a8e"/>
<path d="M0 121 L41 113.5 L46 125 L51 150 L57 175 L57 270 L0 270 Z" fill="#18182a"/>
<path d="M0 121 L13 121 L41 113.5 L0 146 Z" fill="#ececf6"/>
<path d="M100 165 Q100 158 108 158 L256 160 Q264 160 263 168 L258 250 L104 252 Z" fill="#1c1c2c"/>
<rect x="118" y="198" width="100" height="72" fill="#1e2c36"/>
<path d="M166 200 L170 270 L164 270 Z" fill="#141c24"/>
<path d="M126 92 Q138 82 158 82 L214 80 Q232 81 240 92 L252 114 L256 146 L242 150 L240 205 L122 208 L118 152 L106 150 L110 114 Z" fill="#151517"/>
<path d="M160 104 L159 48 Q160 20 187 20 Q213 20 213 48 L213 92 L201 98 L199 82 L173 82 L173 106 Z" fill="#3b2b25"/>
<ellipse cx="187" cy="56" rx="17.5" ry="24" fill="#ad7c6c"/>
<path d="M180 40 Q186 36 192 40 L190 50 L182 50 Z" fill="#c0645a" opacity="0.6"/>
<rect x="170.5" y="49" width="15" height="7" rx="2" fill="none" stroke="#2a1c1c" stroke-width="2"/>
<rect x="188.5" y="49" width="15" height="7" rx="2" fill="none" stroke="#2a1c1c" stroke-width="2"/>
<path d="M173 78 L201 78 L193 101 L185 106 L177 100 Z" fill="#8a6252"/>
<path d="M112 153 L152 127" stroke="#a87868" stroke-width="15" stroke-linecap="round"/>
<path d="M189 126 L246 165" stroke="#a87868" stroke-width="15" stroke-linecap="round"/>
<ellipse cx="155" cy="125" rx="11" ry="14" fill="#bc8a7a"/>
<ellipse cx="184" cy="117" rx="10" ry="12" fill="#bc8a7a"/>
<ellipse cx="108" cy="170" rx="9" ry="7.5" fill="#8a88d0"/>
<ellipse cx="254" cy="171" rx="9" ry="6" fill="#8a88d0"/>
</svg></div>
</body></html>
